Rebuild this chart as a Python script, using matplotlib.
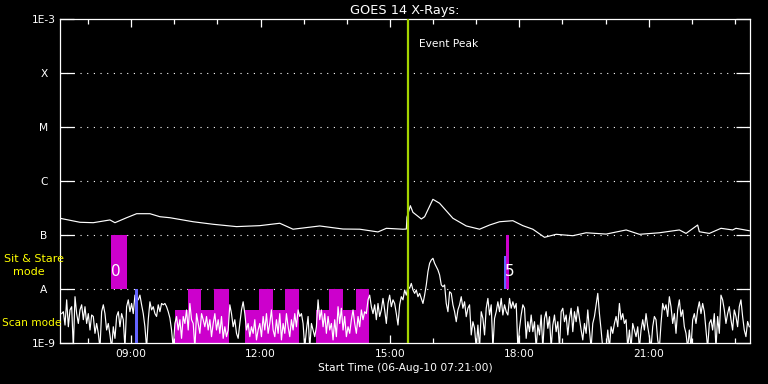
import numpy as np
import matplotlib
matplotlib.use("Agg")
import matplotlib.pyplot as plt
from matplotlib.ticker import FixedLocator, NullLocator

# ---------------- data ----------------
# Long channel (1-8 A), time in decimal hours (06-Aug-10), flux W/m^2
long_time = [7.35, 7.813, 8.121, 8.508, 8.624, 8.895, 9.127, 9.435, 9.667, 9.898,
             10.438, 10.901, 11.443, 11.983, 12.446, 12.754, 13.373, 13.913, 14.300,
             14.723, 14.918, 15.302, 15.381, 15.395, 15.474, 15.534, 15.729, 15.805,
             15.997, 16.152, 16.461, 16.771, 17.079, 17.311, 17.543, 17.851, 18.082,
             18.314, 18.585, 18.856, 19.241, 19.551, 20.014, 20.478, 20.786, 21.249,
             21.712, 21.867, 22.136, 22.175, 22.407, 22.678, 22.947, 23.025, 23.333]
long_flux = [2.04e-7, 1.72e-7, 1.69e-7, 1.90e-7, 1.69e-7, 2.09e-7, 2.48e-7, 2.48e-7,
             2.18e-7, 2.09e-7, 1.76e-7, 1.58e-7, 1.43e-7, 1.49e-7, 1.65e-7, 1.28e-7,
             1.47e-7, 1.29e-7, 1.28e-7, 1.14e-7, 1.33e-7, 1.28e-7, 1.29e-7, 2.13e-7,
             3.49e-7, 2.63e-7, 1.98e-7, 2.18e-7, 4.58e-7, 3.87e-7, 2.04e-7, 1.47e-7,
             1.28e-7, 1.53e-7, 1.76e-7, 1.84e-7, 1.49e-7, 1.28e-7, 9.06e-8, 1.03e-7,
             9.7e-8, 1.10e-7, 1.04e-7, 1.24e-7, 1.03e-7, 1.10e-7, 1.24e-7, 1.07e-7,
             1.53e-7, 1.15e-7, 1.07e-7, 1.33e-7, 1.24e-7, 1.33e-7, 1.20e-7]

# Short channel (0.5-4 A), flux in units of 1e-9 W/m^2, evenly sampled
short_a = [3.5, 3.8, 2.15, 6.3, 2.0, 4.1, 4.7, 0.8, 7.2, 3.5,
           2.3, 4.1, 5.1, 2.7, 4.7, 2.3, 3.5, 1.74, 3.3, 3.1,
           1.51, 2.3, 1.51, 0.8, 3.8, 5.1, 3.5, 1.74, 2.3, 1.41,
           0.8, 2.0, 1.22, 3.1, 3.8, 2.0, 3.5, 2.7, 0.8, 4.7,
           6.3, 3.8, 5.4, 3.5, 7.7, 6.7, 6.3, 7.7, 5.1, 3.5,
           2.0, 0.8, 2.7, 5.8, 4.1, 4.7, 3.5, 3.1, 5.1, 3.8,
           5.4, 5.1, 5.4, 4.7, 3.8, 2.9, 1.74, 0.8, 2.3, 3.1,
           1.74, 2.7, 1.22, 3.1, 2.3, 4.1, 1.74, 5.4, 2.7, 2.3,
           0.8, 3.5, 2.3, 1.51, 3.5, 2.7, 2.0, 3.1, 1.74, 2.7,
           1.31, 2.3, 3.5, 1.74, 2.7, 1.51, 3.1, 1.22, 2.0, 1.31,
           1.74, 5.1, 3.5, 2.0, 2.7, 1.51, 1.22, 2.3]
short_b = [4.1, 5.8, 3.5, 1.74, 2.3, 1.31, 2.0, 1.51, 2.7, 1.14,
           1.74, 2.3, 1.31, 3.1, 1.74, 3.5, 1.51, 2.3, 4.1, 1.74,
           1.31, 2.7, 1.51, 3.5, 1.14, 2.3, 1.51, 3.5, 2.0, 1.31,
           2.7, 1.74, 3.5, 2.0, 4.1, 3.1, 3.5, 2.3, 0.8, 1.74,
           3.1, 0.8, 2.3, 1.74, 1.31, 2.0, 6.3, 2.7, 4.1, 2.0,
           3.5, 1.51, 3.1, 1.74, 2.3, 1.14, 2.7, 1.31, 4.7, 2.3,
           4.4, 1.74, 3.1, 1.31, 2.0, 1.51, 2.7, 4.1, 2.3, 1.51,
           3.1, 2.0, 4.1, 2.7, 3.8, 3.5, 6.3, 7.7, 4.7, 3.5,
           5.1, 2.7, 5.4, 3.1, 4.1, 6.7, 4.1, 2.3, 5.4, 7.7,
           4.7, 6.3, 5.4, 3.5, 2.15, 5.1, 7.2, 6.3, 9.6, 7.7,
           11.0, 10.3, 12.7, 9.6, 8.3]
short_c = [9.6, 7.2, 8.3, 6.7, 5.4, 7.7, 11.9, 20.9, 29.9, 34.4,
           37.0, 29.9, 25.9, 22.5, 18.2, 11.9, 11.0, 11.9, 5.4, 3.8,
           8.9, 8.3, 5.1, 3.8, 2.48, 4.1, 5.1, 7.2, 4.4, 5.8,
           3.07, 4.4, 5.1, 1.41, 2.48, 1.87, 0.8, 2.15, 0.8, 3.8,
           2.86, 1.41, 4.4, 6.7, 3.3, 5.1, 0.8, 2.86, 3.8, 5.8,
           3.8, 6.7, 3.3, 5.1, 3.8, 3.3, 6.7, 4.4, 5.8, 4.4,
           5.4, 0.8, 1.87, 3.3, 5.1, 4.4, 1.22, 2.48, 1.62, 3.3,
           1.62, 2.48, 0.8, 2.15, 1.41, 3.3, 0.8, 2.86, 3.8, 1.87,
           3.07, 0.8, 2.15, 3.3, 1.62, 2.48, 0.8, 3.8, 4.4, 2.48,
           3.3, 1.41, 2.86, 4.4, 1.62, 3.8, 2.48, 4.7, 2.86]
short_d = [1.74, 1.14, 2.3, 1.51, 4.1, 1.74, 0.8, 2.3, 3.1, 5.1,
           8.3, 3.5, 1.74, 0.8, 0.8, 0.8, 1.74, 0.8, 2.0, 1.51,
           2.3, 3.1, 2.0, 5.4, 2.7, 3.5, 2.3, 2.7, 0.8, 1.74,
           0.8, 2.3, 1.74, 1.31, 2.0, 0.8, 1.74, 2.7, 1.74, 3.5,
           2.0, 1.31, 0.8, 2.0, 3.1, 2.7, 1.14, 0.8, 2.3, 5.4,
           4.1, 5.1, 3.1, 7.2, 4.7, 2.3, 3.5, 1.51, 4.1, 6.3,
           3.1, 4.1, 2.0, 1.51, 0.8, 1.74, 0.8, 2.7, 3.5, 2.3,
           4.1, 5.8, 3.5, 5.4, 3.8, 1.74, 0.8, 2.3, 2.7, 1.74,
           3.5, 0.8, 3.1, 1.51, 7.7, 6.3, 4.1, 2.3, 3.5, 4.7,
           2.7, 1.74, 4.1, 3.1, 2.0, 4.7, 6.3, 3.1, 1.74, 1.31,
           2.5, 2.0]
short_first, short_last = 7.389, 23.333

t_start, t_end = 7.35, 23.35
event_peak = 15.43

# Observing modes
sit_start = [8.53, 17.70]
sit_end = [8.90, 17.75]
sit_labels = ["0", "5"]
sit_label_time = [8.53, 17.67]
scan_low_start = [10.01, 11.64, 13.28]
scan_low_end = [11.26, 12.89, 14.52]
scan_low_level = 4.1e-9
scan_high_start = [10.31, 10.92, 11.96, 12.56, 13.59, 14.21]
scan_high_end = [10.63, 11.26, 12.28, 12.89, 13.92, 14.52]
blue_start = [9.10, 17.65]
blue_end = [9.17, 17.70]
blue_bottom = [1e-9, 1e-8]
blue_top = [1e-8, 4.1e-8]

ytick_vals = [1e-9, 1e-8, 1e-7, 1e-6, 1e-5, 1e-4, 1e-3]
ytick_labels = ["1E-9", "A", "B", "C", "M", "X", "1E-3"]
xmajor = [9, 12, 15, 18, 21]
xmajor_labels = ["09:00", "12:00", "15:00", "18:00", "21:00"]
xminor = list(range(8, 24))

# ---------------- plot ----------------
plt.rcParams["font.family"] = ["DejaVu Sans"]
W, H = 768, 384
fig = plt.figure(figsize=(W / 100, H / 100), dpi=100, facecolor="black")
ax = fig.add_axes([60 / W, 1 - 343 / H, 690 / W, 324 / H], facecolor="black")
ax.set_yscale("log")
ax.set_xlim(t_start, t_end)
ax.set_ylim(1e-9, 1e-3)

MAG = "#cc00cc"
BLUE = "#6464ff"

# grid dotted lines at decade levels
for v in ytick_vals[1:-1]:
    ax.axhline(v, color="white", lw=0.8, ls=(0, (1, 5)), zorder=1)

# mode bars
for s, e in zip(sit_start, sit_end):
    ax.bar(s, 1e-7 - 1e-8, width=e - s, bottom=1e-8, align="edge", color=MAG, lw=0, zorder=2)
for s, e in zip(scan_low_start, scan_low_end):
    ax.bar(s, scan_low_level - 1e-9, width=e - s, bottom=1e-9, align="edge", color=MAG, lw=0, zorder=2)
for s, e in zip(scan_high_start, scan_high_end):
    ax.bar(s, 1e-8 - 1e-9, width=e - s, bottom=1e-9, align="edge", color=MAG, lw=0, zorder=2)

# data
short_flux = np.array(short_a + short_b + short_c + short_d) * 1e-9
short_time = np.linspace(short_first, short_last, len(short_flux))
ax.plot(short_time, short_flux, color="white", lw=0.85, zorder=3)
ax.plot(long_time, long_flux, color="white", lw=0.85, zorder=3)

for s, e, b, t in zip(blue_start, blue_end, blue_bottom, blue_top):
    ax.bar(s, t - b, width=e - s, bottom=b, align="edge", color=BLUE, lw=0, zorder=4)

for lbl, tt in zip(sit_labels, sit_label_time):
    ax.text(tt, 2.07e-8, lbl, color="white", fontsize=11, ha="left", va="center", zorder=5)

ax.axvline(event_peak, color="#a4d400", lw=1.6, zorder=5)
ax.text(15.67, 3.44e-4, "Event Peak", color="white", fontsize=7.7, ha="left", va="center")

# axes styling
for sp in ax.spines.values():
    sp.set_color("white")
    sp.set_linewidth(0.9)
ax.yaxis.set_major_locator(FixedLocator(ytick_vals))
ax.yaxis.set_minor_locator(NullLocator())
ax.set_yticklabels(ytick_labels)
ax.tick_params(axis="y", which="major", direction="in", length=10, width=0.9,
               color="white", labelcolor="white", left=True, right=True,
               labelsize=7.7, pad=11.5)
for lbl in ax.get_yticklabels():
    lbl.set_horizontalalignment("center")

ax.xaxis.set_major_locator(FixedLocator(xmajor))
ax.xaxis.set_minor_locator(FixedLocator(xminor))
ax.set_xticklabels(xmajor_labels)
ax.tick_params(axis="x", which="major", direction="in", length=6, width=0.9,
               color="white", labelcolor="white", top=True, bottom=True,
               labelsize=7.7, pad=4.5)
ax.tick_params(axis="x", which="minor", direction="in", length=3.5, width=0.9,
               color="white", top=True, bottom=True)

ax.set_xlabel("Start Time (06-Aug-10 07:21:00)", color="white", fontsize=7.7, labelpad=3)
ax.set_title("GOES 14 X-Rays:", color="white", fontsize=9.3, pad=3.5)

# yellow mode labels
fig.text(34 / W, 1 - 259 / H, "Sit & Stare", color="#ffff00", fontsize=8, ha="center", va="center")
fig.text(13 / W, 1 - 272 / H, "mode", color="#ffff00", fontsize=8, ha="left", va="center")
fig.text(2 / W, 1 - 323 / H, "Scan mode", color="#ffff00", fontsize=7.6, ha="left", va="center")

fig.savefig("out.png", dpi=100, facecolor="black")
